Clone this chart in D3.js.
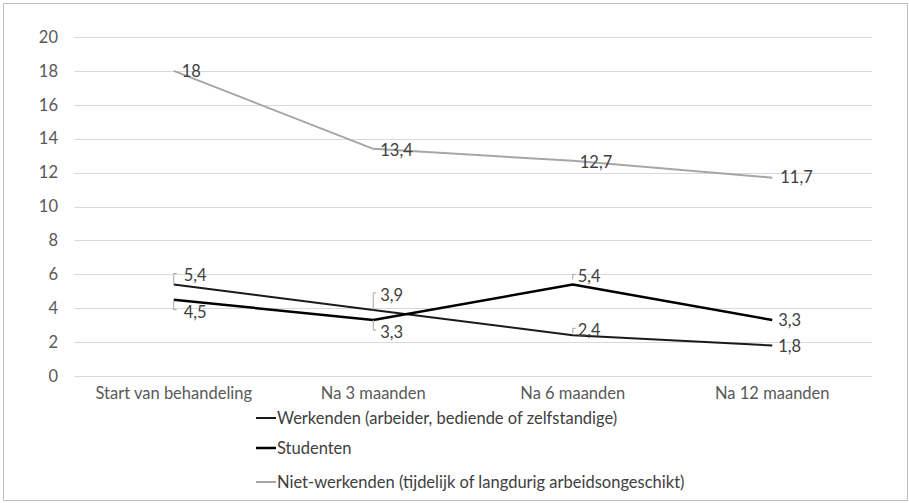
<!DOCTYPE html>
<html>
<head>
<meta charset="utf-8">
<script src="https://cdn.jsdelivr.net/npm/d3@7"></script>
<style>
  html, body { margin: 0; padding: 0; background: #fff; }
  svg { display: block; }
  text { font-family: Lato, "Open Sans", sans-serif; }
</style>
</head>
<body>
<svg id="chart" width="909" height="503"></svg>
<script>
// Categories (time points) and the three series
const categories = ["Start van behandeling", "Na 3 maanden", "Na 6 maanden", "Na 12 maanden"];
const werkenden = [5.4, 3.9, 2.4, 1.8];
const studenten = [4.5, 3.3, 5.4, 3.3];
const nietWerkenden = [18, 13.4, 12.7, 11.7];
const yTicks = [0, 2, 4, 6, 8, 10, 12, 14, 16, 18, 20];
const seriesNames = [
  "Werkenden (arbeider, bediende of zelfstandige)",
  "Studenten",
  "Niet-werkenden (tijdelijk of langdurig arbeidsongeschikt)"
];

const fmt = v => String(v).replace(".", ",");

// Styling and label placement per series
const series = [
  { name: seriesNames[0], values: werkenden, color: "#1a1a1a", width: 2,
    // label offsets (dx, dy) from the point and leader style
    labels: [
      { dx: 10, dy: -9, leader: "up" },
      { dx: 7, dy: -15, leader: "up" },
      { dx: 5, dy: -5, leader: "tick" },
      { dx: 6, dy: 1 }
    ] },
  { name: seriesNames[1], values: studenten, color: "#000000", width: 2.5,
    labels: [
      { dx: 10, dy: 12, leader: "down" },
      { dx: 7, dy: 12, leader: "down" },
      { dx: 5, dy: -8, leader: "tick" },
      { dx: 6, dy: 0 }
    ] },
  { name: seriesNames[2], values: nietWerkenden, color: "#a6a6a6", width: 2,
    labels: [
      { dx: 8, dy: 0 },
      { dx: 7, dy: 1 },
      { dx: 7, dy: 1 },
      { dx: 8, dy: 0 }
    ] }
];

const svg = d3.select("#chart");

// Outer chart frame
svg.append("rect")
  .attr("x", 3.5).attr("y", 3.5)
  .attr("width", 904).attr("height", 497)
  .attr("fill", "none").attr("stroke", "#bfbfbf").attr("stroke-width", 1);

const plot = { left: 74, right: 872, top: 37, bottom: 376 };

const x = d3.scaleBand().domain(categories).range([plot.left, plot.right]).padding(0);
const y = d3.scaleLinear().domain([0, 20]).range([plot.bottom, plot.top]);
const cx = c => x(c) + x.bandwidth() / 2;

// Horizontal gridlines
svg.append("g")
  .selectAll("line")
  .data(yTicks)
  .join("line")
  .attr("x1", plot.left).attr("x2", plot.right)
  .attr("y1", d => Math.round(y(d)) + 0.5).attr("y2", d => Math.round(y(d)) + 0.5)
  .attr("stroke", "#d9d9d9").attr("stroke-width", 1);

// Y axis labels
const yAxis = d3.axisLeft(y).tickValues(yTicks).tickSize(0).tickPadding(0);
const yg = svg.append("g").attr("transform", `translate(58,0)`).call(yAxis);
yg.select(".domain").remove();
yg.selectAll("text")
  .attr("font-family", "Lato, 'Open Sans', sans-serif")
  .attr("font-size", 16.5).attr("fill", "#595959");

// X axis labels
const xAxis = d3.axisBottom(x).tickSize(0).tickPadding(0);
const xg = svg.append("g").attr("transform", `translate(0,${plot.bottom + 11})`).call(xAxis);
xg.select(".domain").remove();
xg.selectAll("text")
  .attr("font-family", "Lato, 'Open Sans', sans-serif")
  .attr("font-size", 16.5).attr("fill", "#595959");

// Series lines
const line = d3.line()
  .x((d, i) => cx(categories[i]))
  .y(d => y(d));

svg.append("g")
  .selectAll("path")
  .data(series)
  .join("path")
  .attr("d", s => line(s.values))
  .attr("fill", "none")
  .attr("stroke", s => s.color)
  .attr("stroke-width", s => s.width)
  .attr("stroke-linejoin", "round");

// Data labels with small leader brackets
const lbl = svg.append("g");
series.forEach(s => {
  s.values.forEach((v, i) => {
    const px = cx(categories[i]);
    const py = y(v);
    const p = s.labels[i];
    const tx = px + p.dx;
    const ty = py + p.dy;
    if (p.leader === "up" || p.leader === "down") {
      const yEnd = p.leader === "up" ? ty - 2 : ty - 2;
      lbl.append("path")
        .attr("d", `M${px},${py} L${px},${yEnd} L${px + 3},${yEnd}`)
        .attr("fill", "none").attr("stroke", "#a6a6a6").attr("stroke-width", 1);
    } else if (p.leader === "tick") {
      lbl.append("path")
        .attr("d", `M${px},${ty + 3} L${px},${ty - 2} L${px + 3},${ty - 2}`)
        .attr("fill", "none").attr("stroke", "#a6a6a6").attr("stroke-width", 1);
    }
    lbl.append("text")
      .attr("x", tx).attr("y", ty)
      .attr("dy", "0.35em")
      .attr("font-size", 16.5)
      .attr("fill", "#404040")
      .text(fmt(v));
  });
});

// Legend (stacked rows below the axis)
const legendRows = [418, 448, 482];
const lg = svg.append("g");
series.forEach((s, i) => {
  const ly = legendRows[i];
  lg.append("line")
    .attr("x1", 256).attr("x2", 276)
    .attr("y1", ly).attr("y2", ly)
    .attr("stroke", s.color).attr("stroke-width", s.width);
  lg.append("text")
    .attr("x", 277).attr("y", ly)
    .attr("dy", "0.35em")
    .attr("font-size", 16.5)
    .attr("fill", "#404040")
    .text(s.name);
});
</script>
</body>
</html>
